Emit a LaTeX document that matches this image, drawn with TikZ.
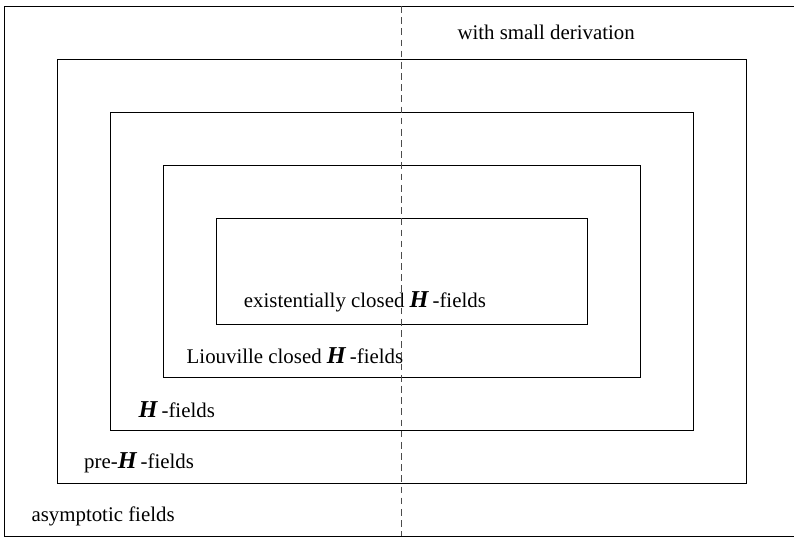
\documentclass[tikz,border=0pt]{standalone}
\usepackage{fontspec}
\setmainfont{Liberation Serif}
\usetikzlibrary{positioning}

\newcommand{\Hf}{{\fontsize{13}{13}\selectfont\textbf{\textit{H}}}\,}

\begin{document}
\begin{tikzpicture}[
  font=\fontsize{11.2}{13}\selectfont,
  frame/.style={draw, line width=0.5pt},
  label/.style={inner sep=1pt},
  split/.style={draw=black!70, line width=0.5pt, dash pattern=on 3.6pt off 2.4pt}
]
\useasboundingbox (-0.075,-0.02) rectangle (14.906,10.113);
\clip (-0.075,-0.02) rectangle (14.906,10.113);

% nested classes
\foreach \i in {0,...,4}
  \draw[frame] (\i,\i) rectangle (15-\i,10-\i);

\node[label] (asym) at (1.87,0.36) {asymptotic fields};
\node[label] (preH) at (2.55,1.38) {pre-\Hf-fields};
\node[label] (Hfld) at (3.26,2.38) {\Hf-fields};
\node[label] (liou) at (5.49,3.40) {Liouville closed \Hf-fields};
\node[label] (exc) at (6.81,4.42) {existentially closed \Hf-fields};
\node[label] (small) at (10.23,9.51) {with small derivation};

% small derivation vs. large derivation
\coordinate (top) at (7.5,10);
\coordinate (bot) at (7.5,0);
\draw[split] (top) -- (bot);
\end{tikzpicture}
\end{document}
